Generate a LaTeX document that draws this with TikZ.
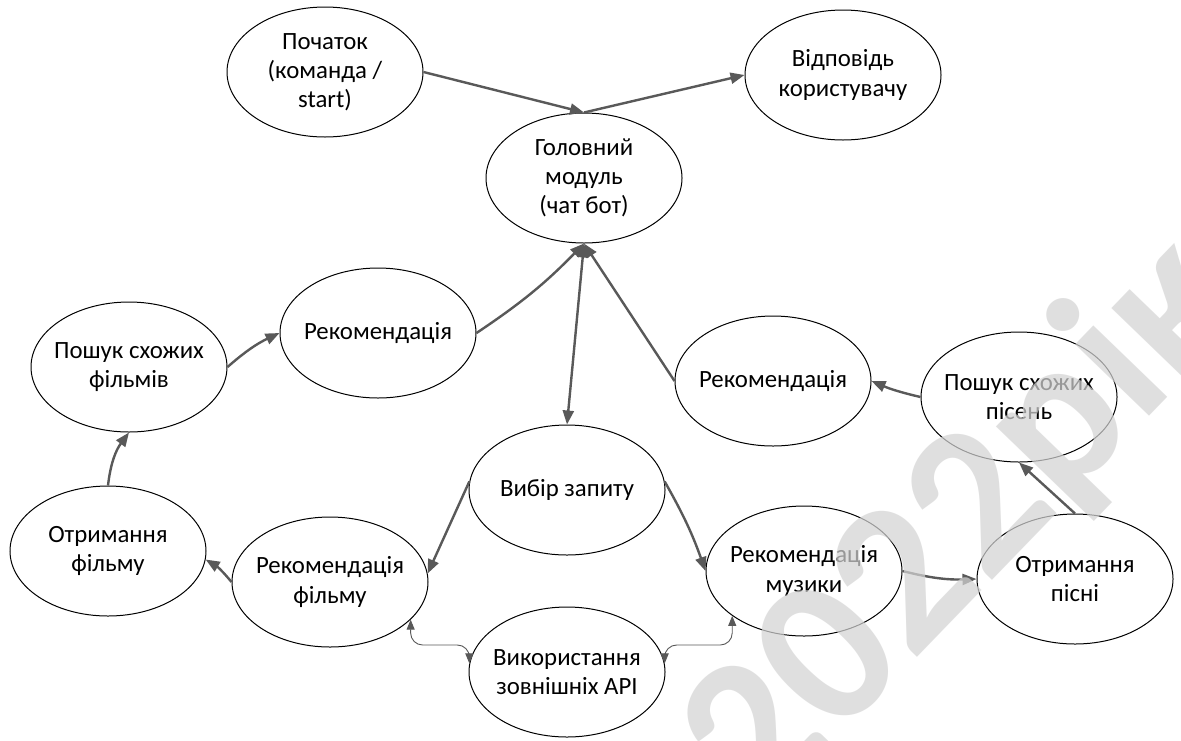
\documentclass[tikz,border=0pt]{standalone}
\usepackage{fontspec}
\setmainfont{Carlito}
\usetikzlibrary{arrows.meta,shapes.geometric}
\definecolor{arrgray}{RGB}{89,89,89}
\definecolor{wmgray}{RGB}{212,212,212}
\begin{document}
\begin{tikzpicture}[x=0.5pt,y=-0.5pt,
  st/.style={ellipse,draw=black,line width=0.5pt,minimum width=98pt,minimum height=65pt,inner xsep=-20pt,inner ysep=-4pt,align=center,font=\fontsize{12.4}{14.6}\selectfont,fill=white},
  arr/.style={draw=arrgray,line width=1.2pt,-{Triangle[length=7pt,width=5.5pt]}},
  arrb/.style={draw=arrgray,line width=1.2pt,{Triangle[length=7pt,width=5.5pt]}-{Triangle[length=7pt,width=5.5pt]}},
  thinb/.style={draw=arrgray,line width=0.45pt,rounded corners=6pt,{Triangle[length=5pt,width=4pt]}-{Triangle[length=5pt,width=4pt]}},
  wm/.style={text=wmgray,opacity=0.72,font=\fontsize{106}{110}\selectfont\bfseries,inner sep=0pt}
]
\fill[white] (0,0) rectangle (1181,740);
\useasboundingbox (0,0) rectangle (1181,740);

\node[st] (start) at (325,72) {Початок\\(команда /\\start)};
\node[st] (main) at (584,178) {Головний\\модуль\\(чат бот)};
\node[st] (resp) at (843,75) {Відповідь\\користувачу};
\node[st] (searchF) at (129,367) {Пошук схожих\\фільмів};
\node[st] (recL) at (378,333) {Рекомендація};
\node[st] (recR) at (773,381) {Рекомендація};
\node[st] (searchS) at (1019,397) {Пошук схожих\\пісень};
\node[st] (getF) at (108,551) {Отримання\\фільму};
\node[st] (recF) at (330,582) {Рекомендація\\фільму};
\node[st] (choose) at (567,490) {Вибір запиту};
\node[st] (recM) at (804,571) {Рекомендація\\музики};
\node[st] (getS) at (1075,579) {Отримання\\пісні};
\node[st] (api) at (567,672) {Використання\\зовнішніх API};

\coordinate (apiL) at (442,645);
\coordinate (apiR) at (695,645);

\draw[arr] (start.east) -- (main.north);
\draw[arr] (main.north) -- (resp.west);
\draw[arr] (recL.east) to[bend right=6] (main.south);
\draw[arr] (recR.west) -- (main.south);
\draw[arrb] (main.south) -- (choose.north);
\draw[arr] (searchS.west) to[bend left=5] (recR.east);
\draw[arr] (getS.north) -- (searchS.south);
\draw[arr] (recM.east) to[bend right=8] (getS.west);
\draw[arr] (choose.175) -- (recF.5);
\draw[arr] (choose.5) to[bend left=5] (recM.west);
\draw[arr] (recF.west) to[bend right=10] (getF.-5);
\draw[arr] (getF.north) to[bend left=15] (searchF.south);
\draw[arr] (searchF.east) to[bend left=8] (recL.west);
\draw[thinb] (recF.-25) |- (apiL) -| (api.175);
\draw[thinb] (recM.212) |- (apiR) -| (api.5);

\node[wm,rotate=46] (wmark) at (965,525) {2022рік};
\end{tikzpicture}
\end{document}
